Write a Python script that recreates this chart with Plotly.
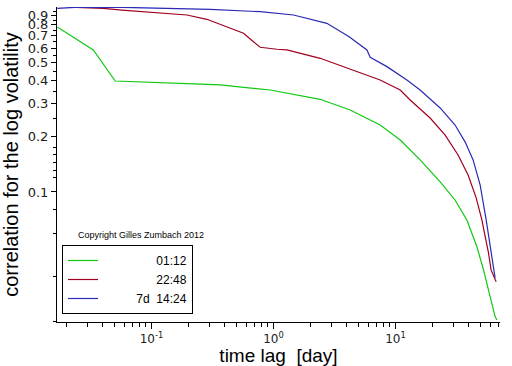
import plotly.graph_objects as go

# ---- data (time lag in days, correlation) ----
green_x = [0.01686, 0.0333, 0.0504, 0.0975, 0.2507, 0.3656, 0.940, 2.414, 4.25, 7.49,
           10.94, 15.92, 23.25, 30.8, 38.5, 46.5, 52.7, 59.7, 65.6, 67.8]
green_y = [0.780, 0.586, 0.398, 0.393, 0.383, 0.379, 0.356, 0.317, 0.2775, 0.230,
           0.191, 0.149, 0.1133, 0.0905, 0.0706, 0.0506, 0.0379, 0.0272, 0.0212, 0.0203]

red_x = [0.02366, 0.0402, 0.0572, 0.1178, 0.195, 0.2844, 0.415, 0.568, 0.685, 0.778,
         1.066, 1.288, 2.414, 4.53, 7.49, 10.94, 13.19, 19.24, 25.55, 32.6,
         39.4, 45.9, 51.1, 54.4, 57.9, 60.8, 66.9]
red_y = [0.996, 0.984, 0.963, 0.932, 0.905, 0.858, 0.782, 0.721, 0.649, 0.606,
         0.591, 0.586, 0.528, 0.4565, 0.403, 0.356, 0.3144, 0.251, 0.203, 0.1585,
         0.1236, 0.0929, 0.0706, 0.0574, 0.0468, 0.0379, 0.0327]

blue_x = [0.01686, 0.02366, 0.0572, 0.1178, 0.303, 0.778, 1.459, 2.739, 4.17, 5.83,
          6.21, 8.51, 12.40, 15.92, 23.25, 30.8, 37.3, 43.3, 49.5, 55.4,
          59.7, 63.5, 65.6]
blue_y = [0.984, 0.996, 0.996, 0.984, 0.972, 0.943, 0.905, 0.816, 0.691, 0.586,
          0.535, 0.476, 0.403, 0.356, 0.2846, 0.230, 0.186, 0.149, 0.109, 0.0706,
          0.0506, 0.0394, 0.0343]

series_names = ["01:12", "22:48", "7d\u00a0\u00a014:24"]
series_colors = ["#10c810", "#a0001e", "#2a2ab4"]
legend_pad = [16, 16, 10]   # leading non-breaking spaces, to right-align the labels

x_major_vals = [0.1, 1, 10]
x_major_text = ["10<sup>-1</sup>", "10<sup>0</sup>", "10<sup>1</sup>"]
x_minor_vals = [0.02, 0.03, 0.04, 0.05, 0.06, 0.07, 0.08, 0.09,
                0.2, 0.3, 0.4, 0.5, 0.6, 0.7, 0.8, 0.9,
                2, 3, 4, 5, 6, 7, 8, 9, 20, 30, 40, 50, 60, 70]

y_major_vals = [0.1, 0.2, 0.3, 0.4, 0.5, 0.6, 0.7, 0.8, 0.9]
y_major_text = ["0.1", "0.2", "0.3", "0.4", "0.5", "0.6", "0.7", "0.8", "0.9"]
y_minor_vals = [0.02, 0.035, 0.06, 0.08, 0.12, 0.13, 0.145, 0.16, 0.175,
                0.25, 0.35, 0.45, 0.55, 0.65, 0.75, 0.85, 0.95]

fig = go.Figure()
for xs, ys, name, col, npad in [(green_x, green_y, series_names[0], series_colors[0], legend_pad[0]),
                                (red_x, red_y, series_names[1], series_colors[1], legend_pad[1]),
                                (blue_x, blue_y, series_names[2], series_colors[2], legend_pad[2])]:
    fig.add_trace(go.Scatter(x=xs, y=ys, mode="lines", name="\u00a0" * npad + name,
                             line=dict(color=col, width=1.2)))

fig.add_annotation(text="Copyright Gilles Zumbach 2012", xref="paper", yref="paper",
                   x=(76 - 57) / 443, y=(322 - 235) / 315, xanchor="left", yanchor="middle",
                   showarrow=False, font=dict(family="Liberation Sans", size=9, color="black"))

fig.update_layout(
    width=512, height=366,
    margin=dict(l=57, r=12, t=7, b=44),
    paper_bgcolor="white", plot_bgcolor="white",
    font=dict(family="Liberation Sans", color="black"),
    showlegend=True,
    legend=dict(x=(62 - 57) / 443, y=(322 - 314) / 315, xanchor="left", yanchor="bottom",
                bordercolor="black", borderwidth=1, bgcolor="white",
                font=dict(family="Liberation Sans", size=12, color="black"),
                tracegroupgap=0, itemwidth=30),
    xaxis=dict(type="log", range=[-1.775, 1.857], showgrid=False, zeroline=False,
               showline=True, linecolor="black", linewidth=1, mirror=False,
               ticks="outside", ticklen=6, tickcolor="black",
               tickmode="array", tickvals=x_major_vals, ticktext=x_major_text,
               tickfont=dict(family="DejaVu Sans", size=12, color="#222"),
               minor=dict(tickmode="array", tickvals=x_minor_vals, ticks="outside",
                          ticklen=4, tickcolor="black", showgrid=False),
               title=dict(text="time lag  [day]", font=dict(family="Liberation Sans", size=19),
                          standoff=1),
               automargin=False),
    yaxis=dict(type="log", range=[-1.703, 0.0], showgrid=False, zeroline=False,
               showline=True, linecolor="black", linewidth=1, mirror=False,
               ticks="outside", ticklen=5, tickcolor="black",
               tickmode="array", tickvals=y_major_vals, ticktext=y_major_text,
               tickfont=dict(family="DejaVu Sans", size=13, color="#222"),
               minor=dict(tickmode="array", tickvals=y_minor_vals, ticks="outside",
                          ticklen=3, tickcolor="black", showgrid=False),
               title=dict(text="correlation for the log volatility",
                          font=dict(family="Liberation Sans", size=20), standoff=3),
               automargin=False),
)

fig.write_html("out.html", config={"displayModeBar": False},
               post_script="document.body.style.margin='0';")
